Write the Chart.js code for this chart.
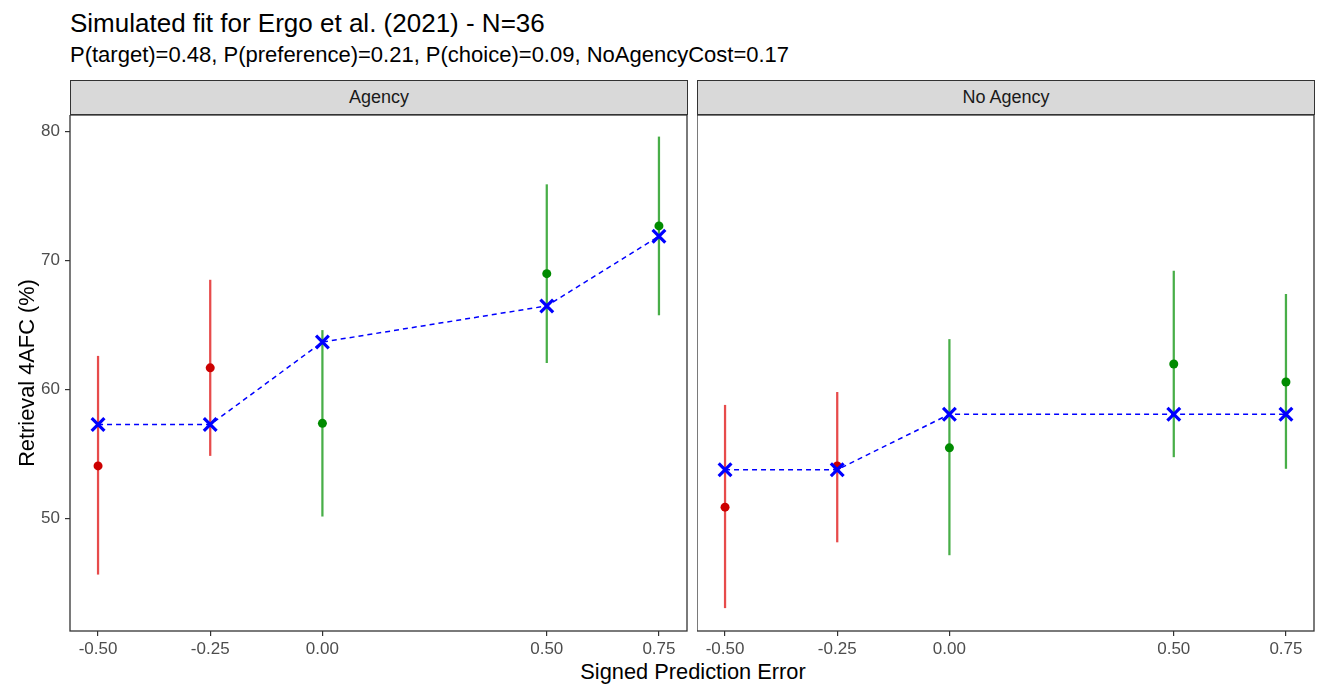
<!DOCTYPE html>
<html>
<head>
<meta charset="utf-8">
<script src="https://cdn.jsdelivr.net/npm/chart.js@4.4.1/dist/chart.umd.min.js"></script>
<style>
  body { margin: 0; background: #fff; font-family: "Liberation Sans", Arial, sans-serif; }
  #wrap { position: relative; width: 1320px; height: 687px; overflow: hidden; }
  .txt { position: absolute; white-space: nowrap; line-height: 1; color: #000; }
  .strip { position: absolute; top: 80px; height: 35px; width: 618px; box-sizing: border-box;
           background: #d9d9d9; border: 1.3px solid #333; color: #1a1a1a; font-size: 18px;
           display: flex; align-items: center; justify-content: center; }
  canvas { position: absolute; }
</style>
</head>
<body>
<div id="wrap">
  <div class="txt" style="left:70px; top:10px; font-size:26px;">Simulated fit for Ergo et al. (2021) - N=36</div>
  <div class="txt" style="left:70px; top:44px; font-size:22px;">P(target)=0.48, P(preference)=0.21, P(choice)=0.09, NoAgencyCost=0.17</div>
  <div class="strip" style="left:70px;">Agency</div>
  <div class="strip" style="left:697px;">No Agency</div>
  <div class="txt" style="left:693px; top:661px; font-size:21.8px; transform:translateX(-50%);">Signed Prediction Error</div>
  <canvas id="left" width="692" height="545" style="left:0; top:115px;"></canvas>
  <canvas id="right" width="623" height="545" style="left:697px; top:115px;"></canvas>
</div>
<script>
// signed prediction error levels
var xVals = [-0.5, -0.25, 0, 0.5, 0.75];
var xTicks = [-0.5, -0.25, 0, 0.5, 0.75];
var yTicks = [50, 60, 70, 80];

// Agency panel
var agencyObs   = [54.1, 61.7, 57.4, 69.0, 72.7];
var agencyLo    = [45.7, 54.9, 50.2, 62.1, 65.8];
var agencyHi    = [62.6, 68.5, 64.6, 75.9, 79.6];
var agencyModel = [57.3, 57.3, 63.7, 66.5, 71.9];

// No Agency panel
var noAgencyObs   = [50.9, 54.1, 55.5, 62.0, 60.6];
var noAgencyLo    = [43.1, 48.2, 47.2, 54.8, 53.9];
var noAgencyHi    = [58.8, 59.8, 63.9, 69.2, 67.4];
var noAgencyModel = [53.8, 53.8, 58.1, 58.1, 58.1];

var dotColor = function(x) { return x < 0 ? '#cc0000' : '#008b00'; };
var barColor = function(x) { return x < 0 ? 'rgba(225,30,30,0.8)' : 'rgba(40,160,40,0.85)'; };

var panelBorder = {
    id: 'panelBorder',
    afterDraw: function(chart) {
        var a = chart.chartArea, ctx = chart.ctx;
        ctx.save();
        ctx.strokeStyle = '#333333';
        ctx.lineWidth = 1.3;
        ctx.strokeRect(a.left, a.top, a.right - a.left, a.bottom - a.top);
        ctx.restore();
    }
};

function makePanel(id, obs, lo, hi, model, showY) {
    var bars = xVals.map(function(x, i) { return { x: x, y: [lo[i], hi[i]] }; });
    var pts = xVals.map(function(x, i) { return { x: x, y: obs[i] }; });
    var fit = xVals.map(function(x, i) { return { x: x, y: model[i] }; });
    return new Chart(document.getElementById(id), {
        type: 'bar',
        data: {
            datasets: [
                {
                    type: 'line',
                    data: fit,
                    order: 0,
                    borderColor: '#0000ff',
                    borderWidth: 1.5,
                    borderDash: [5, 4],
                    pointStyle: 'crossRot',
                    pointRadius: 9,
                    pointBorderWidth: 3.2,
                    pointBorderColor: '#0000ff',
                    fill: false,
                    tension: 0
                },
                {
                    type: 'scatter',
                    data: pts,
                    order: 1,
                    pointRadius: 4.5,
                    pointBorderWidth: 0,
                    pointBackgroundColor: xVals.map(dotColor)
                },
                {
                    type: 'bar',
                    data: bars,
                    order: 2,
                    barThickness: 1.6,
                    grouped: false,
                    backgroundColor: xVals.map(barColor)
                }
            ]
        },
        options: {
            responsive: false,
            animation: false,
            events: [],
            layout: { autoPadding: false, padding: { left: 0, right: showY ? 5 : 6, top: 0, bottom: 0 } },
            plugins: { legend: { display: false }, tooltip: { enabled: false } },
            scales: {
                x: {
                    type: 'linear',
                    min: -0.5625,
                    max: 0.8125,
                    offset: false,
                    afterBuildTicks: function(s) { s.ticks = xTicks.map(function(v) { return { value: v }; }); },
                    afterFit: function(s) { s.height = 29; s.paddingLeft = 0; s.paddingRight = 0; },
                    grid: { offset: false, drawOnChartArea: false, drawTicks: true, tickLength: 5, color: '#333333', lineWidth: 1.2 },
                    border: { display: false },
                    ticks: {
                        autoSkip: false,
                        maxRotation: 0,
                        padding: 3,
                        color: '#4d4d4d',
                        font: { family: 'Liberation Sans', size: 17 },
                        callback: function(v) { return v.toFixed(2); }
                    }
                },
                y: {
                    type: 'linear',
                    display: showY,
                    min: 41.3,
                    max: 81.3,
                    afterBuildTicks: function(s) { s.ticks = yTicks.map(function(v) { return { value: v }; }); },
                    afterFit: function(s) {
                        if (showY) s.width = 70;
                        s.paddingTop = 0;
                        s.paddingBottom = 0;
                    },
                    grid: { drawOnChartArea: false, drawTicks: true, tickLength: 5, color: '#333333', lineWidth: 1.2 },
                    border: { display: false },
                    title: {
                        display: true,
                        text: 'Retrieval 4AFC (%)',
                        color: '#000',
                        padding: { top: 15, bottom: 0 },
                        font: { family: 'Liberation Sans', size: 21.8, weight: 'normal' }
                    },
                    ticks: {
                        padding: 5,
                        color: '#4d4d4d',
                        font: { family: 'Liberation Sans', size: 17 }
                    }
                }
            }
        },
        plugins: [panelBorder]
    });
}

makePanel('left', agencyObs, agencyLo, agencyHi, agencyModel, true);
makePanel('right', noAgencyObs, noAgencyLo, noAgencyHi, noAgencyModel, false);
</script>
</body>
</html>
